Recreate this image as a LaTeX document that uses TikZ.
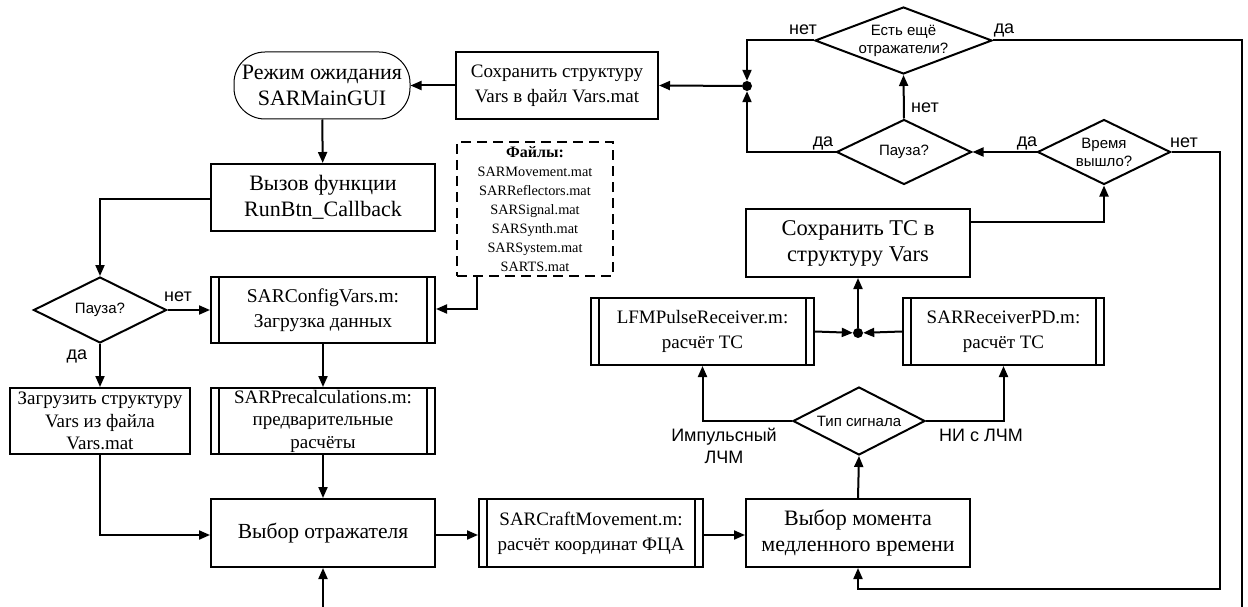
\documentclass[tikz,border=0pt]{standalone}
\usepackage{fontspec}
\setmainfont{Liberation Serif}
\newfontfamily\arialf{Liberation Sans}
\usetikzlibrary{arrows.meta,shapes.geometric,calc}
\tikzset{
  ln/.style={line width=2pt},
  arr/.style={line width=2pt, -{Triangle[length=11pt,width=9pt]}},
  box/.style={draw, line width=2pt, inner sep=1pt, align=center,
    font=\fontsize{19}{25}\selectfont},
  bigbox/.style={box, font=\fontsize{22}{26}\selectfont},
  box3/.style={box, font=\fontsize{19}{22.5}\selectfont},
  term/.style={draw, line width=1pt, rounded corners=31pt, inner sep=1pt,
    align=center, minimum width=176pt, minimum height=67pt,
    font=\fontsize{22}{26}\selectfont},
  dec/.style={diamond, draw, line width=2pt, inner sep=0pt},
  dtext/.style={align=center, inner sep=0pt, font=\arialf\fontsize{15}{18}\selectfont},
  lab/.style={inner sep=0pt, align=center, font=\arialf\fontsize{18}{22}\selectfont},
  jdot/.style={circle, fill=black, inner sep=0pt, minimum size=10pt},
  files/.style={draw, line width=2pt, dash pattern=on 10pt off 6pt, inner sep=1pt,
    align=center, minimum width=156pt, minimum height=134pt,
    font=\fontsize{14.3}{19}\selectfont}
}
\newcommand\sidebars[1]{%
  \draw[ln] ([xshift=9pt]#1.north west) -- ([xshift=9pt]#1.south west)
            ([xshift=-9pt]#1.north east) -- ([xshift=-9pt]#1.south east);}
\begin{document}
\begin{tikzpicture}[x=1pt,y=-1pt]
\useasboundingbox (0,0) rectangle (1248,607);

% left column
\node[term] (ell) at (322,85.5) {Режим ожидания\\SARMainGUI};
\node[box, minimum width=202pt, minimum height=67pt] (save) at (557,85.5)
  {Сохранить структуру\\Vars в файл Vars.mat};
\node[bigbox, minimum width=224pt, minimum height=67pt] (call) at (323,197.5)
  {Вызов функции\\RunBtn\_Callback};
\node[dec, minimum width=133pt, minimum height=66pt,
  label={[dtext]center:Пауза?}] (p1) at (100,310) {};
\node[box, font=\fontsize{19.5}{25}\selectfont, minimum width=224pt, minimum height=66pt] (cfg) at (323,310)
  {SARConfigVars.m:\\Загрузка данных};
\sidebars{cfg}
\node[box3, minimum width=180pt, minimum height=66pt] (load) at (100,421)
  {Загрузить структуру\\Vars из файла\\Vars.mat};
\node[box3, minimum width=224pt, minimum height=66pt] (pre) at (323,421)
  {SARPrecalculations.m:\\предварительные\\расчёты};
\sidebars{pre}
\node[box, font=\fontsize{21.5}{26}\selectfont, minimum width=224pt, minimum height=68pt] (sel) at (323,533)
  {Выбор отражателя};
\node[files] (fil) at (535,209)
  {{\fontsize{16}{19}\selectfont\bfseries Файлы:}\\SARMovement.mat\\SARReflectors.mat\\SARSignal.mat\\SARSynth.mat\\SARSystem.mat\\SARTS.mat};

% bottom row
\node[box, minimum width=224pt, minimum height=68pt] (craft) at (591,533)
  {SARCraftMovement.m:\\расчёт координат ФЦА};
\sidebars{craft}
\node[bigbox, minimum width=224pt, minimum height=68pt] (mom) at (858,533)
  {Выбор момента\\медленного времени};
\node[dec, minimum width=132pt, minimum height=68pt,
  label={[dtext]center:Тип сигнала}] (typ) at (859,421) {};

% receivers
\node[box, minimum width=223pt, minimum height=67pt] (lfm) at (702.5,331.5)
  {LFMPulseReceiver.m:\\расчёт ТС};
\sidebars{lfm}
\node[box, minimum width=201pt, minimum height=67pt] (rpd) at (1003.5,331.5)
  {SARReceiverPD.m:\\расчёт ТС};
\sidebars{rpd}
\node[jdot] (j2) at (858,333) {};
\node[box, font=\fontsize{22.5}{26}\selectfont, minimum width=224pt, minimum height=68pt] (stc) at (858,243)
  {Сохранить ТС в\\структуру Vars};

% upper decisions
\node[dec, minimum width=133pt, minimum height=65pt,
  label={[dtext]center:Время\\вышло?}] (tim) at (1104,152) {};
\node[dec, minimum width=135pt, minimum height=65pt,
  label={[dtext]center:Пауза?}] (p2) at (904,152) {};
\node[dec, minimum width=177pt, minimum height=67pt,
  label={[dtext]center:Есть ещё\\отражатели?}] (rem) at (903.5,40.5) {};
\node[jdot] (j1) at (747,86) {};

\coordinate (bot) at (323,607);
\coordinate (rbot) at (1242,607);
\coordinate (rr) at (1220,589);
\coordinate (lc) at (100,199);

% connectors
\draw[arr] (ell) -- (call);
\draw[arr] (call.west |- lc) -- (lc) -- (p1.north);
\draw[arr] (p1.east) -- (cfg.west);
\draw[arr] (p1.south) -- (load.north);
\draw[arr] (cfg.south) -- (pre.north);
\draw[arr] (pre.south) -- (sel.north);
\draw[arr] (load.south) |- ($(sel.west)+(0,2)$);
\draw[arr] (bot) -- (sel.south);
\draw[arr] ($(fil.south west)+(21,0)$) |- ($(cfg.east)+(0,-1)$);
\draw[arr] ($(sel.east)+(0,2)$) -- ($(craft.west)+(0,2)$);
\draw[arr] ($(craft.east)+(0,2)$) -- ($(mom.west)+(0,2)$);
\draw[arr] (mom.north) -- (typ.south);
\draw[arr] (typ.west) -| (lfm.south);
\draw[arr] (typ.east) -| (rpd.south);
\draw[arr] (lfm.east) -- (j2);
\draw[arr] (rpd.west) -- (j2);
\draw[arr] (j2) -- (stc.south);
\draw[arr] ($(stc.east)+(0,-21)$) -| (tim.south);
\draw[arr] (tim.west) -- (p2.east);
\draw[arr] (tim.east) -| (rr) -| (mom.south);
\draw[arr] (p2.west) -| (j1);
\draw[arr] (p2.north) -- (rem.south);
\draw[arr] (rem.west) -| (j1);
\draw[ln] (rem.east) -| (rbot);
\draw[arr] (j1) -- (save.east);
\draw[arr] (save.west) -- (ell.east);

% labels
\node[lab] (l1) at (178,297) {нет};
\node[lab] (l2) at (77,356) {да};
\node[lab] (l3) at (724,446) {Импульсный\\ЛЧМ};
\node[lab] (l4) at (981,435) {НИ с ЛЧМ};
\node[lab] (l5) at (1027,143) {да};
\node[lab] (l6) at (1184,143) {нет};
\node[lab] (l7) at (823,143) {да};
\node[lab] (l8) at (925,108) {нет};
\node[lab] (l9) at (803,30) {нет};
\node[lab] (l10) at (1004,30) {да};
\end{tikzpicture}
\end{document}
